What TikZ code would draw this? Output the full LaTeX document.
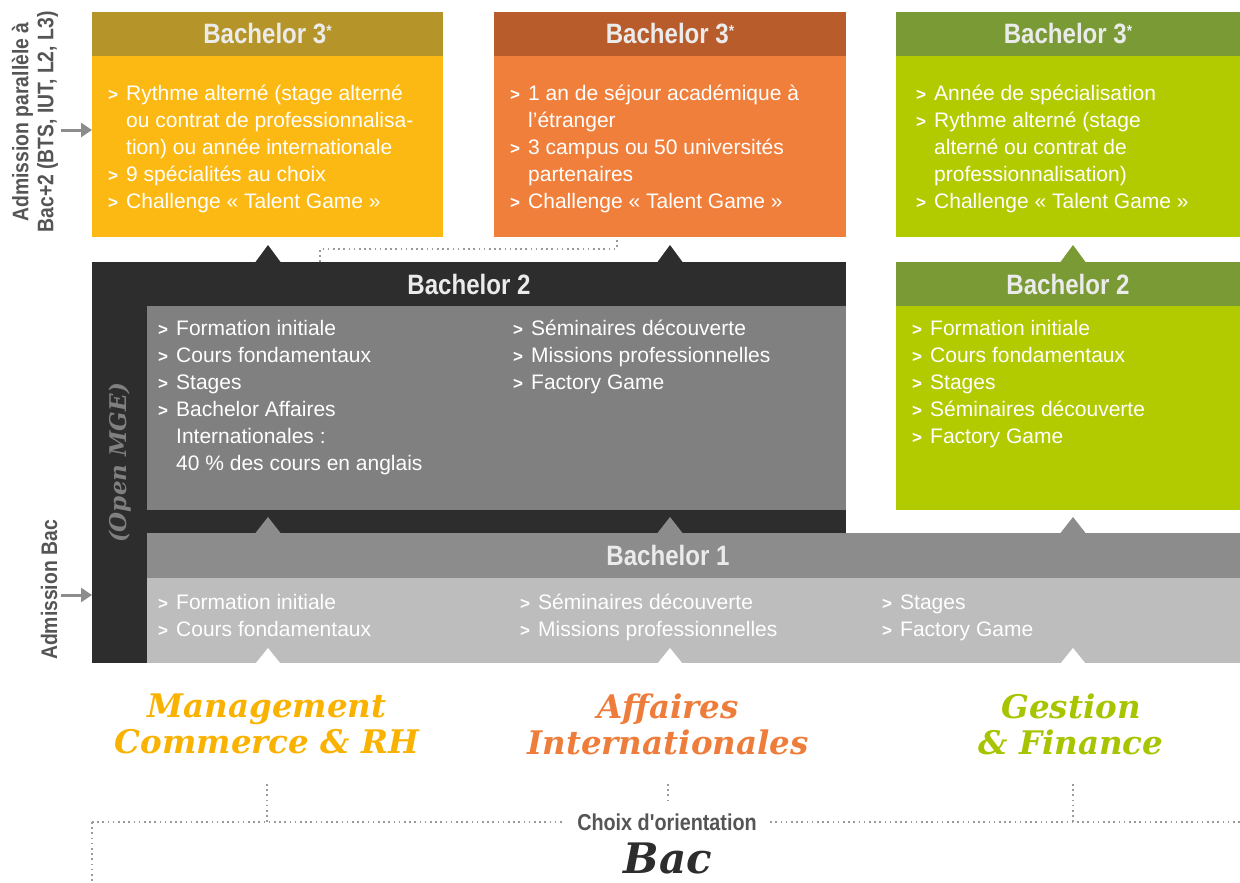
\documentclass[tikz,border=0pt]{standalone}
\usepackage{fontspec}
\setmainfont{Liberation Sans}
\newfontfamily\condfont{Liberation Sans}[FakeStretch=0.86]
\newfontfamily\slabfont{DejaVu Serif}
\usetikzlibrary{positioning,arrows.meta}

\definecolor{mgmthead}{HTML}{B5952A}
\definecolor{mgmtbody}{HTML}{FDB913}
\definecolor{intlhead}{HTML}{B85C2C}
\definecolor{intlbody}{HTML}{F07F3C}
\definecolor{finhead}{HTML}{7A9A36}
\definecolor{finbody}{HTML}{B2CB00}
\definecolor{darkhead}{HTML}{2D2D2D}
\definecolor{darkbody}{HTML}{808080}
\definecolor{onehead}{HTML}{8C8C8C}
\definecolor{onebody}{HTML}{BDBDBD}
\definecolor{headtext}{HTML}{EBEBEB}
\definecolor{labelgray}{HTML}{555555}
\definecolor{dotgray}{HTML}{9A9A9A}
\definecolor{mgmttext}{HTML}{F9B200}
\definecolor{intltext}{HTML}{EE7D3B}
\definecolor{fintext}{HTML}{A8C400}

% bullet and hanging indent
\newcommand\itm{\rule{0pt}{16pt}\makebox[18pt][l]{\fontsize{17}{17}\selectfont\bfseries >}}
\newcommand\ind{\rule{0pt}{16pt}\hspace*{18pt}}
\newcommand\hdstar{\raisebox{7pt}{\fontsize{16}{16}\selectfont *}}

\begin{document}
\begin{tikzpicture}[x=1pt, y=-1pt,
        headbox/.style={minimum height=44, inner sep=0pt, outer sep=0pt, anchor=north west,
                        text=headtext, font=\condfont\bfseries\fontsize{28}{28}\selectfont},
        headtitle/.style={text=headtext, font=\condfont\bfseries\fontsize{28}{28}\selectfont},
        bodybox/.style={inner sep=0pt, outer sep=0pt, anchor=north west},
        items/.style={anchor=north west, inner sep=0pt, align=left, text=white,
                      font=\fontsize{21}{27}\selectfont},
        sidelabel/.style={rotate=90, align=center, text=labelgray,
                          font=\condfont\bfseries\fontsize{22.5}{25}\selectfont},
        track/.style={align=center, font=\slabfont\bfseries\itshape\fontsize{32.5}{36}\selectfont},
        admarrow/.style={draw=onehead, line width=3pt, -{Triangle[length=11pt,width=14pt]}},
        dotline/.style={draw=dotgray, line width=1.6pt, dash pattern=on 1.6pt off 3.6pt},
        ]
    \useasboundingbox (0,0) rectangle (1240,883);

    % Bachelor 3
    \node[headbox, fill=mgmthead, minimum width=351] (m3h) at (92,12) {Bachelor 3\hdstar};
    \node[bodybox, fill=mgmtbody, minimum width=351, minimum height=181] (m3b) at (m3h.south west) {};
    \node[items] (m3t) at ([xshift=16,yshift=-28.5]m3b.north west)
        {\itm Rythme alterné (stage alterné\\ \ind ou contrat de professionnalisa-\\ \ind tion) ou année internationale\\
         \itm 9 spécialités au choix\\ \itm Challenge « Talent Game »};

    \node[headbox, fill=intlhead, minimum width=352] (i3h) at (494,12) {Bachelor 3\hdstar};
    \node[bodybox, fill=intlbody, minimum width=352, minimum height=181] (i3b) at (i3h.south west) {};
    \node[items] (i3t) at ([xshift=16,yshift=-28.5]i3b.north west)
        {\itm 1 an de séjour académique à\\ \ind l'étranger\\ \itm 3 campus ou 50 universités\\
         \ind partenaires\\ \itm Challenge « Talent Game »};

    \node[headbox, fill=finhead, minimum width=344] (f3h) at (896,12) {Bachelor 3\hdstar};
    \node[bodybox, fill=finbody, minimum width=344, minimum height=181] (f3b) at (f3h.south west) {};
    \node[items] (f3t) at ([xshift=20,yshift=-28.5]f3b.north west)
        {\itm Année de spécialisation\\ \itm Rythme alterné (stage\\ \ind alterné ou contrat de\\
         \ind professionnalisation)\\ \itm Challenge « Talent Game »};

    % Bachelor 2 (tronc commun)
    \node[bodybox, fill=darkhead, minimum width=754, minimum height=401] (b2o) at (92,262) {};
    \node[headbox, minimum width=754] (b2h) at (92,262) {Bachelor 2};
    \node[bodybox, fill=darkbody, minimum width=699, minimum height=204] (b2b) at (147,306) {};
    \node[items] (b2l) at ([xshift=11,yshift=-13.5]b2b.north west)
        {\itm Formation initiale\\ \itm Cours fondamentaux\\ \itm Stages\\ \itm Bachelor Affaires\\
         \ind Internationales :\\ \ind 40 \% des cours en anglais};
    \node[items] (b2r) at ([xshift=366,yshift=-13.5]b2b.north west)
        {\itm Séminaires découverte\\ \itm Missions professionnelles\\ \itm Factory Game};
    \node[rotate=90, text=darkbody, font=\slabfont\bfseries\itshape\fontsize{23}{23}\selectfont]
        (open) at (120,463) {(Open MGE)};

    \node[headbox, fill=finhead, minimum width=344] (f2h) at (896,262) {Bachelor 2};
    \node[bodybox, fill=finbody, minimum width=344, minimum height=204] (f2b) at (f2h.south west) {};
    \node[items] (f2t) at ([xshift=16,yshift=-13.5]f2b.north west)
        {\itm Formation initiale\\ \itm Cours fondamentaux\\ \itm Stages\\ \itm Séminaires découverte\\
         \itm Factory Game};

    % Bachelor 1
    \node[bodybox, fill=onehead, minimum width=1093, minimum height=45] (b1h) at (147,533) {};
    \node[headtitle] (b1title) at (668,555.5) {Bachelor 1};
    \node[bodybox, fill=onebody, minimum width=1093, minimum height=85] (b1b) at (b1h.south west) {};
    \node[items] (b1a) at ([xshift=11,yshift=-15.5]b1b.north west)
        {\itm Formation initiale\\ \itm Cours fondamentaux};
    \node[items] (b1c) at ([xshift=373,yshift=-15.5]b1b.north west)
        {\itm Séminaires découverte\\ \itm Missions professionnelles};
    \node[items] (b1d) at ([xshift=735,yshift=-15.5]b1b.north west)
        {\itm Stages\\ \itm Factory Game};

    % pointes
    \foreach \x in {268,670}
        \fill[darkhead] (\x-12.5,262) -- (\x,245) -- (\x+12.5,262) -- cycle;
    \fill[finhead] (1073-12.5,262) -- (1073,245) -- (1073+12.5,262) -- cycle;
    \foreach \x in {268,670,1073} {
        \fill[onehead] (\x-12.5,533) -- (\x,517) -- (\x+12.5,533) -- cycle;
        \fill[white] (\x-12.5,663.5) -- (\x,648) -- (\x+12.5,663.5) -- cycle;
    }

    % liaison Bachelor 2 -> Bachelor 3 international
    \draw[dotline] (b2o.north west -| 320,0) -- (320,249) -| (i3b.south west -| 617,0);

    % admissions
    \node[sidelabel] (admpar) at (35,122) {Admission parallèle à\\Bac+2 (BTS, IUT, L2, L3)};
    \coordinate (a3) at (61,130);
    \draw[admarrow] (a3) -- (a3 -| m3b.west);
    \node[sidelabel] (admbac) at (49,590) {Admission Bac};
    \coordinate (a1) at (61,595);
    \draw[admarrow] (a1) -- (a1 -| b2o.west);

    % filières
    \node[track, text=mgmttext] (mgmt) at (267,724) {Management\\Commerce \& RH};
    \node[track, text=intltext] (intl) at (668,724) {Affaires\\Internationales};
    \node[track, text=fintext] (fin) at (1071,724) {Gestion\\\& Finance};

    % choix d'orientation
    \node[text=labelgray, font=\condfont\bfseries\fontsize{23}{23}\selectfont] (choix) at (667,822) {Choix d'orientation};
    \node[text=darkhead, font=\slabfont\bfseries\itshape\fontsize{42}{42}\selectfont] (bac) at (668,858) {Bac};
    \coordinate (lft) at (92,822);
    \coordinate (rgt) at (1240,822);
    \draw[dotline] (lft) -- ([xshift=-10]choix.west |- lft);
    \draw[dotline] ([xshift=10]choix.east |- rgt) -- (rgt);
    \draw[dotline] (lft) -- (92,883);
    \draw[dotline] (267,784) -- (267 ,822);
    \draw[dotline] (1073,784) -- (1073,822);
    \draw[dotline] (668,784) -- (668,802);
\end{tikzpicture}
\end{document}
